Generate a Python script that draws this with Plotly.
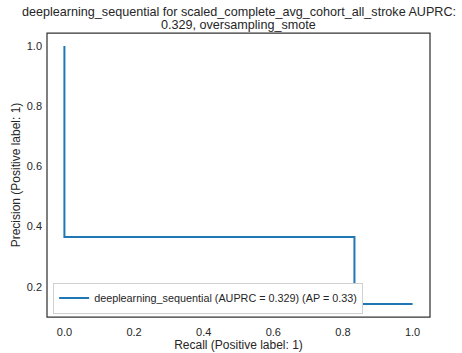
import plotly.graph_objects as go

# Precision-recall curve points (sklearn order: decreasing recall)
recall = [1.0, 0.833, 0.0]
precision = [0.1429, 0.366, 1.0]
auprc = 0.329
ap = 0.33
model_name = "deeplearning_sequential"
title_lines = ["deeplearning_sequential for scaled_complete_avg_cohort_all_stroke AUPRC:",
               "0.329, oversampling_smote"]
x_ticks = [0.0, 0.2, 0.4, 0.6, 0.8, 1.0]
y_ticks = [0.2, 0.4, 0.6, 0.8, 1.0]

FONT = "Liberation Sans, Arial, sans-serif"
TXT = "#262626"

fig = go.Figure()
fig.add_trace(go.Scatter(
    x=recall, y=precision, mode="lines", line_shape="hv",
    line=dict(color="#1f77b4", width=2),
    name=f"{model_name} (AUPRC = {auprc:.3f}) (AP = {ap:.2f})",
))

# two-line title above the axes frame, one annotation per line
for line, shift in zip(title_lines, [21.5, 8]):
    fig.add_annotation(text=line, xref="paper", yref="paper",
                       x=0.5, y=1, xanchor="center", yanchor="middle", yshift=shift,
                       showarrow=False, font=dict(size=12.6, color=TXT))

# axes frame (all four spines)
fig.add_shape(type="rect", xref="paper", yref="paper", x0=0, y0=0, x1=1, y1=1,
              line=dict(color="#333333", width=1.25), layer="above")

fig.update_layout(
    width=462, height=353,
    margin=dict(l=47, r=32, t=33, b=36, autoexpand=False),
    paper_bgcolor="white", plot_bgcolor="white",
    font=dict(family=FONT, color=TXT, size=11),
    showlegend=True,
    legend=dict(x=0.016, y=0.012, xanchor="left", yanchor="bottom",
                bgcolor="white", bordercolor="#d0d0d0", borderwidth=1,
                font=dict(size=10.8, color=TXT)),
)
fig.update_xaxes(range=[-0.05, 1.05], tickvals=x_ticks, tickformat=".1f",
                 automargin=False,
                 showgrid=False, zeroline=False, showline=False, ticks="",
                 ticklabelstandoff=7,
                 title=dict(text="Recall (Positive label: 1)", standoff=1,
                            font=dict(size=12)))
fig.update_yaxes(range=[0.1, 1.0429], tickvals=y_ticks, tickformat=".1f",
                 automargin=False,
                 showgrid=False, zeroline=False, showline=False, ticks="",
                 ticklabelstandoff=4,
                 title=dict(text="Precision (Positive label: 1)", standoff=3,
                            font=dict(size=12)))

fig.write_html("out.html")
